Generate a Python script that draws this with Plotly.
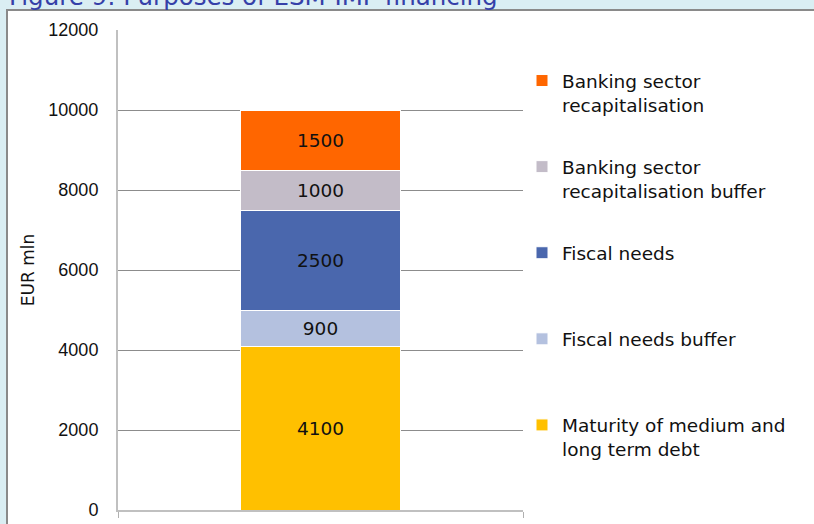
import plotly.graph_objects as go

# stacked segments, bottom to top
segments = [
    "Maturity of medium and<br>long term debt",
    "Fiscal needs buffer<br> ",
    "Fiscal needs<br> ",
    "Banking sector<br>recapitalisation buffer",
    "Banking sector<br>recapitalisation",
]
values = [4100, 900, 2500, 1000, 1500]
colors = ["#FFC000", "#B4C1DF", "#4A67AD", "#C3BCC8", "#FF6600"]
category = [""]
y_ticks = [0, 2000, 4000, 6000, 8000, 10000, 12000]

W, H = 814, 524
L, R, T, B = 118, 291, 30, 14
pw, ph = W - L - R, H - T - B


def px_x(p):
    return (p - L) / pw


def px_y(p):
    return (H - B - p) / ph


fig = go.Figure()

n = len(segments)
for i, (name, val, col) in enumerate(zip(segments, values, colors)):
    fig.add_trace(
        go.Bar(
            x=category,
            y=[val],
            name=name,
            legendgroup=f"g{i}",
            legendrank=n - i,  # legend lists the top segment first
            marker=dict(color=col, line=dict(color="white", width=1)),
            texttemplate="%{y}",
            textposition="inside",
            insidetextanchor="middle",
            textangle=0,
            constraintext="none",
            textfont=dict(family="DejaVu Sans", size=18.5, color="#111111"),
            hoverinfo="y+name",
        )
    )

# white chart panel on the light blue page
fig.add_shape(
    type="rect", xref="paper", yref="paper", layer="below",
    x0=px_x(7), x1=px_x(840), y0=px_y(560), y1=px_y(10),
    fillcolor="white", line=dict(color="#8a8a8a", width=2),
)

# cropped figure caption at the top
fig.add_annotation(
    text="Figure 9: Purposes of ESM-IMF financing",
    xref="paper", yref="paper", x=px_x(7), y=px_y(13),
    xanchor="left", yanchor="bottom", showarrow=False,
    font=dict(family="DejaVu Sans", size=24.5, color="#3540A8"),
)

fig.update_layout(
    width=W, height=H,
    margin=dict(l=L, r=R, t=T, b=B, autoexpand=False),
    paper_bgcolor="#DAEEF3",
    plot_bgcolor="white",
    barmode="stack",
    bargap=0.6025,
    showlegend=True,
    legend=dict(
        x=px_x(522), y=px_y(62), xanchor="left", yanchor="top",
        traceorder="grouped", tracegroupgap=35, valign="top",
        font=dict(family="DejaVu Sans", size=18.5, color="#111111"),
        bgcolor="rgba(0,0,0,0)",
    ),
)

fig.update_yaxes(
    range=[0, 12000], tickvals=y_ticks, ticktext=[str(v) for v in y_ticks],
    automargin=False,
    showgrid=True, gridcolor="#8c8c8c", gridwidth=1,
    showline=True, linecolor="#c0c0c0", linewidth=2,
    ticks="outside", ticklen=14, tickcolor="rgba(0,0,0,0)",
    tickfont=dict(family="Liberation Sans", size=18, color="#111111"),
    title=dict(text="EUR mln", standoff=9,
               font=dict(family="DejaVu Sans", size=17, color="#111111")),
    zeroline=False,
)

fig.update_xaxes(
    automargin=False,
    showticklabels=False, showgrid=False,
    showline=True, linecolor="#c0c0c0", linewidth=2,
    ticks="outside", tickson="boundaries", ticklen=6, tickcolor="#b0b0b0",
)

# the page body has a default 8px margin; drop it so the figure fills the window
fig.write_html(
    "out.html",
    config={"displayModeBar": False},
    post_script="document.body.style.margin = '0';",
)
